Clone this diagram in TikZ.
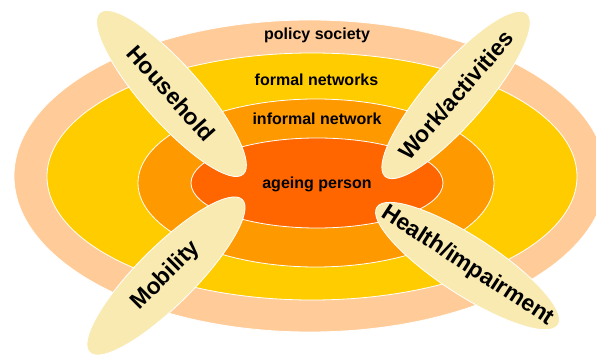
\documentclass[tikz,border=0pt]{standalone}
\usepackage{fontspec}
\setmainfont{Liberation Sans}
\usepackage{tikz}
\usetikzlibrary{shapes.geometric}

\definecolor{policycol}{HTML}{FFCC99}
\definecolor{formalcol}{HTML}{FFCC00}
\definecolor{informalcol}{HTML}{FF9900}
\definecolor{personcol}{HTML}{FF6600}
\definecolor{petalcol}{HTML}{F9EAB1}

\begin{document}
\begin{tikzpicture}[x=1pt, y=1pt, every node/.style={font=\bfseries}
    , ringtext/.style={font=\bfseries\fontsize{16}{19}\selectfont}
    , petal/.style={ellipse, draw=white, line width=0.8pt, fill=petalcol, minimum width=216pt, minimum height=58pt, inner sep=0pt}
    , petaltext/.style={font=\bfseries\fontsize{23}{27}\selectfont, inner sep=0pt} ]

            \useasboundingbox (0,0) rectangle (596,356);

            % rings, outside in
            \foreach \cx/\cy/\rx/\ry/\col in {310/180/296/156/policycol, 312/179.5/265/123.5/formalcol,
                                              316/173/178/84/informalcol, 317/173/126/45/personcol}
                \fill[\col, draw=white, line width=0.8pt] (\cx,\cy) ellipse ({\rx pt} and {\ry pt});

            \node[ringtext] (policy) at (317,321) {policy society};
            \node[ringtext] (formal) at (316.5,276) {formal networks};
            \node[ringtext] (informal) at (317,237) {informal network};
            \node[ringtext] (person) at (317,172) {ageing person};

            % petals
            \foreach \n/\x/\y/\a/\t in {household/171.5/262.5/-48.4/Household, work/456/261/49/Work\slash activities,
                                        mobility/166/80/45/Mobility, health/467.5/90/-33/Health\slash impairment}
            {
                \node[petal, rotate=\a] (\n) at (\x,\y) {};
                \node[petaltext, rotate=\a] (\n text) at (\n) {\t};
            }

        \end{tikzpicture}
\end{document}
